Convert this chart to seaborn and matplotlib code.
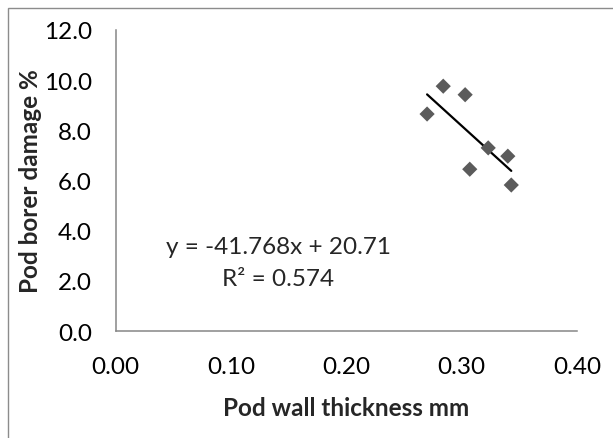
import numpy as np
import pandas as pd
import matplotlib
matplotlib.use("Agg")
import matplotlib.pyplot as plt
import seaborn as sns
from matplotlib.patches import Rectangle

# Data
thickness = [0.270, 0.284, 0.303, 0.307, 0.323, 0.340, 0.343]
damage = [8.65, 9.76, 9.42, 6.45, 7.30, 6.97, 5.82]
slope = -41.768
intercept = 20.71
r_squared = 0.574
x_ticks = [0.00, 0.10, 0.20, 0.30, 0.40]
y_ticks = [0.0, 2.0, 4.0, 6.0, 8.0, 10.0, 12.0]

sns.set_style("white")
plt.rcParams['font.family'] = ['Lato', 'DejaVu Sans']

df = pd.DataFrame({"x": thickness, "y": damage})
xs = np.array([min(thickness), max(thickness)])
trend = pd.DataFrame({"x": xs, "y": slope * xs + intercept})

fig = plt.figure(figsize=(6.13, 4.39), dpi=100)
ax = fig.add_axes([0.1887, 0.2437, 0.7526, 0.6857])

sns.lineplot(data=trend, x="x", y="y", ax=ax, color="black", linewidth=1.6)
sns.scatterplot(data=df, x="x", y="y", ax=ax, marker="D", s=60,
                color="#5b5b5b", edgecolor="none", zorder=3)

ax.set_xlim(0, 0.40)
ax.set_ylim(0, 12)
ax.set_xticks(x_ticks)
ax.set_yticks(y_ticks)
ax.set_xticklabels([f"{v:.2f}" for v in x_ticks])
ax.set_yticklabels([f"{v:.1f}" for v in y_ticks])

for s in ["top", "right"]:
    ax.spines[s].set_visible(False)
for s in ["left", "bottom"]:
    ax.spines[s].set_color("#868686")
    ax.spines[s].set_linewidth(1.1)

ax.tick_params(axis="both", direction="out", length=5, width=1.1,
               color="#868686", labelsize=17.5, labelcolor="black")
ax.tick_params(axis="x", pad=13)
ax.tick_params(axis="y", pad=12)

ax.set_xlabel("Pod wall thickness mm", fontsize=17.5, fontweight="bold")
ax.set_ylabel("Pod borer damage %", fontsize=17.5, fontweight="bold")
ax.xaxis.label.set_va("center")
ax.yaxis.label.set_va("center")
ax.xaxis.set_label_coords(0.5, -0.2525)
ax.yaxis.set_label_coords(-0.1836, 0.5)

ax.text(0.1408, 3.36, f"y = {slope}x + {intercept}", ha="center", va="center", fontsize=17.5)
ax.text(0.1408, 2.11, f"R² = {r_squared}", ha="center", va="center", fontsize=17.5)

fig.patches.append(Rectangle((8 / 613, -0.1), 1.2, 1 - 9 / 439 + 0.1,
                             transform=fig.transFigure, fill=False,
                             edgecolor="#8c8c8c", linewidth=1.0))

fig.savefig("out.png", dpi=100)
